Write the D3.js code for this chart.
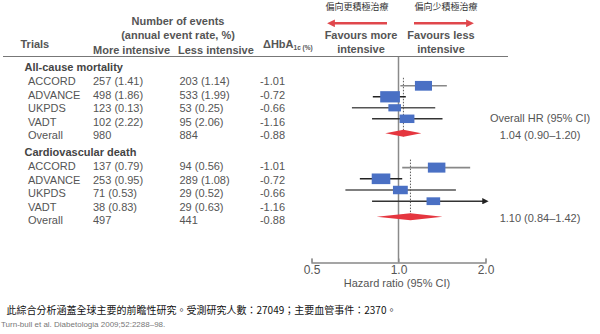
<!DOCTYPE html>
<html><head><meta charset="utf-8">
<script src="https://cdn.jsdelivr.net/npm/d3@7"></script>
<style>
html,body{margin:0;padding:0;background:#fff;}
svg{display:block;font-family:"Liberation Sans",Arial,sans-serif;}
</style></head>
<body><svg id="c" width="600" height="334"></svg>
<script>
// ---------------- data ----------------
const sections = ["All-cause mortality", "Cardiovascular death"];
const trials = ["ACCORD", "ADVANCE", "UKPDS", "VADT", "Overall"];
const acMore = ["257 (1.41)", "498 (1.86)", "123 (0.13)", "102 (2.22)", "980"];
const acLess = ["203 (1.14)", "533 (1.99)", "53 (0.25)", "95 (2.06)", "884"];
const cvMore = ["137 (0.79)", "253 (0.95)", "71 (0.53)", "38 (0.83)", "497"];
const cvLess = ["94 (0.56)", "289 (1.08)", "29 (0.52)", "29 (0.63)", "441"];
const dHbA1c = ["-1.01", "-0.72", "-0.66", "-1.16", "-0.88"];
const acHR = [1.22, 0.935, 0.97, 1.07];
const acLo = [1.015, 0.815, 0.69, 0.81];
const acHi = [1.47, 1.06, 1.34, 1.42];
const acWeight = [27.5, 36.7, 15.0, 20.8];
const cvHR = [1.355, 0.87, 1.015, 1.32];
const cvLo = [1.03, 0.735, 0.655, 0.81];
const cvHi = [1.77, 1.03, 1.58, 2.6];
const cvWeight = [29.0, 32.7, 20.8, 17.5];
const overallHR = [1.04, 1.10];
const overallLo = [0.90, 0.84];
const overallHi = [1.20, 1.42];
const overallLabels = ["1.04 (0.90–1.20)", "1.10 (0.84–1.42)"];
const axisTicks = [0.5, 1.0, 2.0];
const axisTickLabels = ["0.5", "1.0", "2.0"];

// ---------------- layout ----------------
const svg = d3.select("#c");
const textCol = "#555";
const x = d3.scaleLog().base(2).domain([0.5, 2]).range([311.5, 485.5]);
const headingY = [67.5, 152.5];
const rowStep = 13.4;
const markerStart = [85.8, 167.6];
const markerStep = [11, 11.2];
const diamondGap = [14.5, 15.5];
const ciColors = ["#888", "#222", "#555", "#333"];
const boxColor = "#4a70c4";
const red = "#e5363f";

const defs = svg.append("defs");
defs.append("marker").attr("id", "redhead").attr("viewBox", "0 0 10 10")
  .attr("refX", 5).attr("refY", 5).attr("markerWidth", 3).attr("markerHeight", 3)
  .attr("orient", "auto-start-reverse").attr("markerUnits", "strokeWidth")
  .append("path").attr("d", "M0,0L10,5L0,10z").attr("fill", "#e0474c");
defs.append("marker").attr("id", "blackhead").attr("viewBox", "0 0 10 10")
  .attr("refX", 2).attr("refY", 5).attr("markerWidth", 5).attr("markerHeight", 4)
  .attr("orient", "auto").attr("markerUnits", "strokeWidth")
  .append("path").attr("d", "M0,0L10,5L0,10z").attr("fill", "#222");

// ---------- header ----------
const hdr = svg.append("g").attr("fill", textCol).attr("font-weight", "bold").attr("font-size", 11);
hdr.append("text").attr("x", 178).attr("y", 25).attr("text-anchor", "middle").text("Number of events");
hdr.append("text").attr("x", 178).attr("y", 38.5).attr("text-anchor", "middle").text("(annual event rate, %)");
hdr.append("text").attr("x", 20.5).attr("y", 48).text("Trials");
hdr.append("text").attr("x", 93).attr("y", 53.5).text("More intensive");
hdr.append("text").attr("x", 178).attr("y", 53.5).text("Less intensive");
const hb = hdr.append("text").attr("x", 263).attr("y", 48);
hb.append("tspan").text("ΔHbA");
hb.append("tspan").attr("font-size", 6.5).attr("dy", 2).text("1c (%)");

hdr.append("text").attr("x", 361).attr("y", 39).attr("text-anchor", "middle").text("Favours more");
hdr.append("text").attr("x", 361).attr("y", 53).attr("text-anchor", "middle").text("intensive");
hdr.append("text").attr("x", 441).attr("y", 39).attr("text-anchor", "middle").text("Favours less");
hdr.append("text").attr("x", 441).attr("y", 53).attr("text-anchor", "middle").text("intensive");

svg.append("text").attr("x", 357).attr("y", 10).attr("text-anchor", "middle")
  .attr("font-size", 9).attr("fill", "#333").attr("font-family", "'Noto Sans CJK TC'").text("偏向更積極治療");
svg.append("text").attr("x", 446).attr("y", 10).attr("text-anchor", "middle")
  .attr("font-size", 9).attr("fill", "#333").attr("font-family", "'Noto Sans CJK TC'").text("偏向少積極治療");
svg.append("line").attr("x1", 387).attr("x2", 331).attr("y1", 23.3).attr("y2", 23.3)
  .attr("stroke", "#e0474c").attr("stroke-width", 2.6).attr("marker-end", "url(#redhead)");
svg.append("line").attr("x1", 414).attr("x2", 470).attr("y1", 23.3).attr("y2", 23.3)
  .attr("stroke", "#e0474c").attr("stroke-width", 2.6).attr("marker-end", "url(#redhead)");

svg.append("line").attr("x1", 3).attr("x2", 508).attr("y1", 56.5).attr("y2", 56.5)
  .attr("stroke", "#777").attr("stroke-width", 1);

// ---------- vertical reference line ----------
const axisY = 262.5;
svg.append("line").attr("x1", x(1)).attr("x2", x(1)).attr("y1", 57).attr("y2", axisY)
  .attr("stroke", "#8a8a8a").attr("stroke-width", 1.5);

// ---------- sections ----------
const secData = [
  {more: acMore, less: acLess, hr: acHR, lo: acLo, hi: acHi, w: acWeight},
  {more: cvMore, less: cvLess, hr: cvHR, lo: cvLo, hi: cvHi, w: cvWeight}
];
const sizeArea = d3.scaleLinear().domain([0, 100]).range([0, 605]);
const aspect = 1.75;

secData.forEach((s, si) => {
  const g = svg.append("g");
  g.append("text").attr("x", 24.5).attr("y", headingY[si]).attr("dy", "0.35em")
    .attr("font-size", 11).attr("font-weight", "bold").attr("fill", "#444").text(sections[si]);
  const rowY = i => headingY[si] + 14 + i * rowStep;
  const rows = g.selectAll("g.row").data(trials).join("g").attr("class", "row")
    .attr("font-size", 11).attr("fill", textCol);
  rows.append("text").attr("x", 28).attr("y", (d, i) => rowY(i)).attr("dy", "0.35em").text(d => d);
  rows.append("text").attr("x", 93).attr("y", (d, i) => rowY(i)).attr("dy", "0.35em").text((d, i) => s.more[i]);
  rows.append("text").attr("x", 179.5).attr("y", (d, i) => rowY(i)).attr("dy", "0.35em").text((d, i) => s.less[i]);
  rows.append("text").attr("x", 285).attr("y", (d, i) => rowY(i)).attr("dy", "0.35em")
    .attr("text-anchor", "end").text((d, i) => dHbA1c[i]);

  const my = i => markerStart[si] + i * markerStep[si];
  const dy = my(3) + diamondGap[si];

  // dotted overall line
  g.append("line").attr("x1", x(overallHR[si])).attr("x2", x(overallHR[si]))
    .attr("y1", my(0) - 8).attr("y2", dy + 3)
    .attr("stroke", "#333").attr("stroke-width", 0.8).attr("stroke-dasharray", "1.5,1.5");

  // CI lines
  s.hr.forEach((h, i) => {
    const over = s.hi[i] > 2;
    g.append("line").attr("x1", x(s.lo[i])).attr("x2", over ? x(2) - 2 : x(s.hi[i]))
      .attr("y1", my(i)).attr("y2", my(i))
      .attr("stroke", ciColors[i]).attr("stroke-width", 1.6)
      .attr("marker-end", over ? "url(#blackhead)" : null);
  });
  // boxes
  s.hr.forEach((h, i) => {
    const a = sizeArea(s.w[i]);
    const bw = Math.sqrt(a * aspect), bh = Math.sqrt(a / aspect);
    g.append("rect").attr("x", x(h) - bw / 2).attr("y", my(i) - bh / 2)
      .attr("width", bw).attr("height", bh).attr("fill", boxColor);
  });
  // diamond
  const dh = 3.5;
  g.append("path").attr("d",
    `M${x(overallLo[si])},${dy}L${x(overallHR[si])},${dy - dh}L${x(overallHi[si])},${dy}L${x(overallHR[si])},${dy + dh}Z`)
    .attr("fill", red);

  g.append("text").attr("x", 540).attr("y", dy + 1.5).attr("dy", "0.35em").attr("text-anchor", "middle")
    .attr("font-size", 11).attr("fill", textCol).text(overallLabels[si]);
});

svg.append("text").attr("x", 540).attr("y", 118.3).attr("dy", "0.35em").attr("text-anchor", "middle")
  .attr("font-size", 11).attr("fill", textCol).text("Overall HR (95% CI)");

// ---------- axis ----------
const ax = svg.append("g").attr("transform", `translate(0,${axisY})`)
  .call(d3.axisBottom(x).tickValues(axisTicks).tickFormat((d, i) => axisTickLabels[i]).tickSize(-4).tickPadding(3));
ax.select(".domain").attr("stroke", "#888").attr("stroke-width", 1.3);
ax.selectAll(".tick line").attr("stroke", "#888");
ax.selectAll(".tick text").attr("font-size", 12).attr("fill", textCol).attr("font-family", "'Liberation Sans',Arial,sans-serif");
svg.append("text").attr("x", 397).attr("y", 287).attr("text-anchor", "middle")
  .attr("font-size", 11).attr("fill", textCol).text("Hazard ratio (95% CI)");

// ---------- footer ----------
svg.append("text").attr("x", 6.5).attr("y", 314).attr("font-size", 10).attr("fill", "#111")
  .attr("font-family", "'Noto Sans CJK TC'")
  .text("此綜合分析涵蓋全球主要的前瞻性研究。受測研究人數：27049；主要血管事件：2370。");
svg.append("text").attr("x", 1).attr("y", 327).attr("font-size", 8).attr("fill", "#777")
  .text("Turn-bull et al. Diabetologia 2009;52:2288–98.");
</script></body></html>
